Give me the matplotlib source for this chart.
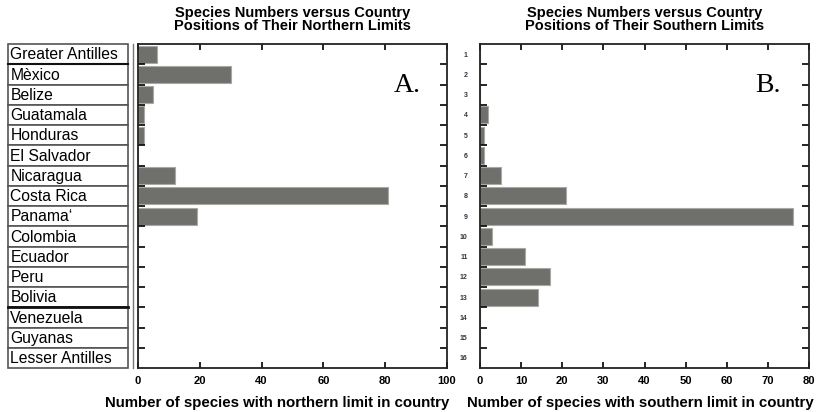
import matplotlib
matplotlib.use("Agg")
import matplotlib.pyplot as plt
from matplotlib.patches import Rectangle
from matplotlib.lines import Line2D
import numpy as np

plt.rcParams['font.family'] = ['Liberation Sans', 'DejaVu Sans']

countries = ["Greater Antilles", "Mèxico", "Belize", "Guatamala", "Honduras",
             "El Salvador", "Nicaragua", "Costa Rica", "Panama\u2018", "Colombia",
             "Ecuador", "Peru", "Bolivia", "Venezuela", "Guyanas", "Lesser Antilles"]
northern = [6, 30, 5, 2, 2, 0, 12, 81, 19, 0, 0, 0, 0, 0, 0, 0]
southern = [0, 0, 0, 2, 1, 1, 5, 21, 76, 3, 11, 17, 14, 0, 0, 0]
row_labels = [str(i) for i in range(1, 17)]
xticks_a = [0, 20, 40, 60, 80, 100]
xticks_b = [0, 10, 20, 30, 40, 50, 60, 70, 80]

W, H = 818, 412
fig = plt.figure(figsize=(W / 100, H / 100), dpi=100)

def fx(p): return p / W
def fy(p): return 1 - p / H

top, bot = 44, 368
axA = fig.add_axes([fx(138), fy(bot), fx(447) - fx(138), fy(top) - fy(bot)])
axB = fig.add_axes([fx(480), fy(bot), fx(809) - fx(480), fy(top) - fy(bot)])
axL = fig.add_axes([fx(8), fy(bot), fx(128) - fx(8), fy(top) - fy(bot)])

bar_color = "#6f6f6b"
edge_color = "#a8a8a4"
pos = np.arange(1, len(countries) + 1)

for ax, vals, xt, xmax, lab, title, letter, labx in [
        (axA, northern, xticks_a, 100, "Number of species with northern limit in country",
         "Species Numbers versus Country\nPositions of Their Northern Limits", "A.", 0.45),
        (axB, southern, xticks_b, 80, "Number of species with southern limit in country",
         "Species Numbers versus Country\nPositions of Their Southern Limits", "B.", 0.487)]:
    ax.barh(pos, vals, height=0.85, color=bar_color, edgecolor=edge_color, linewidth=0.8)
    ax.set_xlim(0, xmax)
    ax.set_ylim(len(countries) + 0.5, 0.5)
    ax.set_xticks(xt)
    ax.set_xticklabels([str(v) for v in xt], fontsize=8, fontweight="bold")
    ax.tick_params(axis="x", direction="in", top=True, bottom=True, length=4, width=1.2, pad=6)
    ax.set_yticks(np.arange(1.5, len(countries), 1.0), minor=True)
    ax.tick_params(axis="y", which="minor", direction="in", left=True, right=True, length=5, width=1.2)
    ax.set_xlabel(lab, fontsize=10.8, fontweight="bold")
    ax.xaxis.set_label_coords(labx, -0.085)
    ax.set_title(title, fontsize=10.5, fontweight="bold", pad=10, linespacing=0.95)
    ax.text(0.915, 0.91, letter, transform=ax.transAxes, ha="right", va="top",
            fontsize=20, family="Liberation Serif")
    for s in ax.spines.values():
        s.set_linewidth(1.3)
        s.set_color("#222222")

axA.set_yticks(pos)
axA.set_yticklabels([])
axA.tick_params(axis="y", which="major", length=0)
axB.set_yticks(pos)
axB.set_yticklabels(row_labels, fontsize=5, fontweight="bold", color="#333344")
axB.tick_params(axis="y", which="major", length=0, pad=9)

# country label boxes
axL.set_xlim(0, 1)
axL.set_ylim(len(countries) + 0.5, 0.5)
axL.axis("off")
for i, c in enumerate(countries):
    y = i + 1
    axL.add_patch(Rectangle((0, y - 0.5), 1, 1, facecolor="white", edgecolor="#555555",
                            linewidth=1.2, clip_on=False))
    axL.text(0.02, y + 0.04, c, ha="left", va="center", fontsize=11.3)
axL.plot([0, 1], [13.5, 13.5], color="#111111", linewidth=2, clip_on=False)
axL.plot([0, 1], [1.5, 1.5], color="#111111", linewidth=1.5, clip_on=False)

# extra vertical line left of panel A
fig.add_artist(Line2D([fx(133), fx(133)], [fy(top), fy(bot)], color="#777777", linewidth=1))

fig.savefig("out.png", dpi=100)
